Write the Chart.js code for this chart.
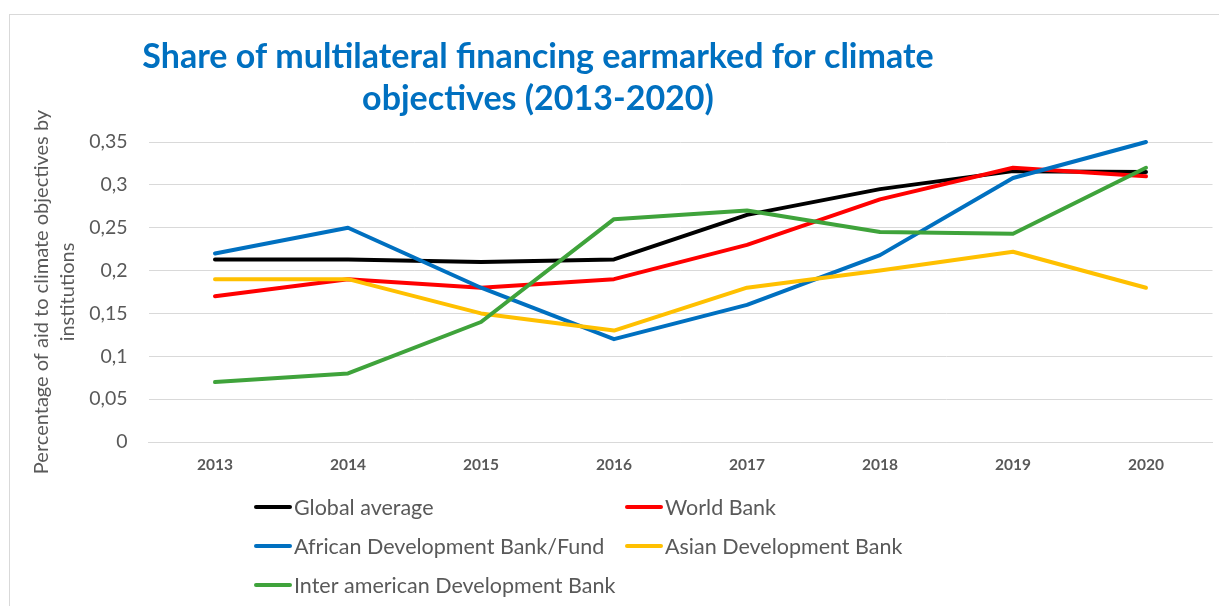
<!DOCTYPE html>
<html>
<head>
<meta charset="utf-8">
<script src="https://cdn.jsdelivr.net/npm/chart.js@4.4.1/dist/chart.umd.min.js"></script>
<style>
  html, body { margin: 0; padding: 0; background: #fff; overflow: hidden; }
  #wrap { position: relative; width: 1219px; height: 606px; }
  #frame { position: absolute; left: 9px; top: 14px; width: 1300px; height: 700px; border: 1px solid #d9d9d9; box-sizing: border-box; }
  #chart { position: absolute; left: 0; top: 0; }
</style>
</head>
<body>
<div id="wrap">
  <div id="frame"></div>
  <canvas id="chart" width="1219" height="606"></canvas>
</div>
<script>
  // ── data ──────────────────────────────────────────
  const years = ['2013', '2014', '2015', '2016', '2017', '2018', '2019', '2020'];
  const seriesNames = [
    'Global average',
    'World Bank',
    'African Development Bank/Fund',
    'Asian Development Bank',
    'Inter american Development Bank',
  ];
  const globalAverage = [0.213, 0.213, 0.21, 0.213, 0.265, 0.295, 0.316, 0.315];
  const worldBank = [0.17, 0.19, 0.18, 0.19, 0.23, 0.283, 0.32, 0.31];
  const africanDevBank = [0.22, 0.25, 0.18, 0.12, 0.16, 0.218, 0.308, 0.35];
  const asianDevBank = [0.19, 0.19, 0.15, 0.13, 0.18, 0.2, 0.222, 0.18];
  const interAmericanDevBank = [0.07, 0.08, 0.14, 0.26, 0.27, 0.245, 0.243, 0.32];
  const yTickValues = [0, 0.05, 0.1, 0.15, 0.2, 0.25, 0.3, 0.35];

  const titleLines = ['Share of multilateral financing earmarked for climate', 'objectives (2013-2020)'];
  const yAxisTitle = ['Percentage of aid to climate objectives by', 'institutions'];

  const seriesValues = [globalAverage, worldBank, africanDevBank, asianDevBank, interAmericanDevBank];
  const seriesColors = ['#000000', '#ff0000', '#0070c0', '#ffc000', '#3fa33b'];

  const TEXT = '#595959';
  const GRID = '#d9d9d9';
  const FONT = 'Lato, "Open Sans", sans-serif';

  // ── title drawn off-centre like the Excel original ──
  const titlePlugin = {
    id: 'excelTitle',
    afterDraw(chart) {
      const ctx = chart.ctx;
      ctx.save();
      ctx.font = 'bold 34px ' + FONT;
      ctx.fillStyle = '#0070c0';
      ctx.textAlign = 'center';
      ctx.textBaseline = 'alphabetic';
      titleLines.forEach((t, i) => ctx.fillText(t, 538, 68 + i * 42));
      ctx.restore();
    },
  };

  // ── two-column legend under the axis ──
  const legendPlugin = {
    id: 'gridLegend',
    afterDraw(chart) {
      const { ctx, chartArea } = chart;
      const colX = [254, 625];
      ctx.save();
      ctx.font = '21.5px ' + FONT;
      ctx.textBaseline = 'middle';
      ctx.textAlign = 'left';
      chart.data.datasets.forEach((ds, i) => {
        const x = colX[i % 2];
        const y = chartArea.bottom + 65 + Math.floor(i / 2) * 39;
        ctx.strokeStyle = ds.borderColor;
        ctx.lineWidth = 4;
        ctx.lineCap = 'round';
        ctx.beginPath();
        ctx.moveTo(x + 2, y);
        ctx.lineTo(x + 36, y);
        ctx.stroke();
        ctx.fillStyle = TEXT;
        ctx.fillText(ds.label, x + 40, y + 1);
      });
      ctx.restore();
    },
  };

  function formatTick(v) {
    return String(Math.round(v * 100) / 100).replace('.', ',');
  }

  function render() {
    const datasets = seriesNames.map((name, i) => ({
      label: name,
      data: seriesValues[i],
      borderColor: seriesColors[i],
      backgroundColor: seriesColors[i],
      borderWidth: 4,
      borderCapStyle: 'round',
      borderJoinStyle: 'round',
      pointRadius: 0,
      tension: 0,
      clip: false,
      order: seriesNames.length - i, // later series on top, as in Excel
    }));

    new Chart(document.getElementById('chart'), {
      type: 'line',
      data: { labels: years, datasets },
      plugins: [titlePlugin, legendPlugin],
      options: {
        responsive: false,
        animation: false,
        layout: { padding: { top: 142, right: 6.5, bottom: 0, left: 0 } },
        plugins: {
          legend: { display: false },
          title: { display: false },
          tooltip: { enabled: false },
        },
        scales: {
          x: {
            offset: true,
            grid: { display: false, drawTicks: false },
            border: { display: true, color: GRID, width: 1 },
            ticks: { color: TEXT, font: { family: FONT, size: 15.5, weight: 'bold' }, padding: 14 },
            afterFit: (scale) => { scale.height = 164; },
          },
          y: {
            min: 0,
            max: 0.35,
            afterBuildTicks: (scale) => { scale.ticks = yTickValues.map(v => ({ value: v })); },
            grid: { color: GRID, lineWidth: 1, drawTicks: false },
            border: { display: false },
            ticks: { color: TEXT, font: { family: FONT, size: 19.5 }, padding: 21, callback: formatTick },
            title: {
              display: true,
              text: yAxisTitle,
              color: TEXT,
              font: { family: FONT, size: 20, lineHeight: 1.3 },
              padding: { top: 29, bottom: 0 },
            },
            afterFit: (scale) => { scale.width = 148.5; },
          },
        },
      },
    });
  }

  if (document.fonts && document.fonts.load) {
    Promise.all([document.fonts.load('20px Lato'), document.fonts.load('bold 20px Lato')])
      .then(render, render);
  } else {
    render();
  }
</script>
</body>
</html>
